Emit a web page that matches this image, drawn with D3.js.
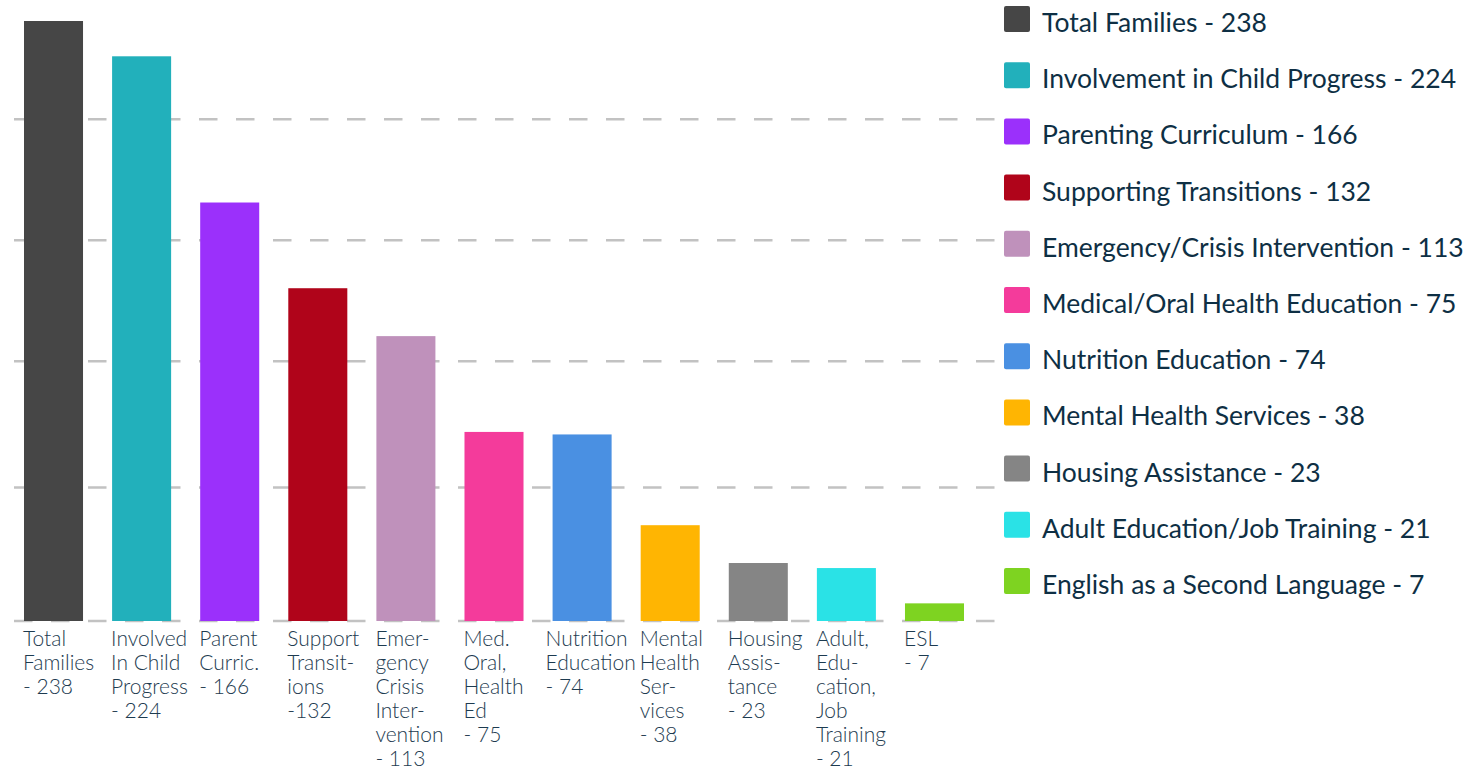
<!DOCTYPE html>
<html>
<head>
<meta charset="utf-8">
<script src="https://cdn.jsdelivr.net/npm/d3@7"></script>
<style>
    body { margin: 0; background: #fff; }
    svg { display: block; font-family: Lato, 'Open Sans', sans-serif; }
</style>
</head>
<body>
<svg id="chart"></svg>
<script>
const categories = [
    'Total Families',
    'Involvement in Child Progress',
    'Parenting Curriculum',
    'Supporting Transitions',
    'Emergency/Crisis Intervention',
    'Medical/Oral Health Education',
    'Nutrition Education',
    'Mental Health Services',
    'Housing Assistance',
    'Adult Education/Job Training',
    'English as a Second Language',
];
const values = [238, 224, 166, 132, 113, 75, 74, 38, 23, 21, 7];
const axisLabels = [
    ['Total', 'Families', '- 238'],
    ['Involved', 'In Child', 'Progress', '- 224'],
    ['Parent', 'Curric.', '- 166'],
    ['Support', 'Transit-', 'ions', '-132'],
    ['Emer-', 'gency', 'Crisis', 'Inter-', 'vention', '- 113'],
    ['Med.', 'Oral,', 'Health', 'Ed', '- 75'],
    ['Nutrition', 'Education', '- 74'],
    ['Mental', 'Health', 'Ser-', 'vices', '- 38'],
    ['Housing', 'Assis-', 'tance', '- 23'],
    ['Adult,', 'Edu-', 'cation,', 'Job', 'Training', '- 21'],
    ['ESL', '- 7'],
];
const colors = [
    '#464646', '#22b0bb', '#9b30fb', '#b0041a', '#bf91bb', '#f43b9b',
    '#4a90e2', '#ffb502', '#858585', '#2ae2e6', '#7ed321',
];
// grid lines as they sit in the picture
const gridValues = [53, 103, 151, 199];

class FamilyBars {
    margin = { top: 21, left: 24 };

    constructor(svg, width = 940, height = 600) {
        this.svg = d3.select(svg);
        this.width = width;
        this.height = height;
    }

    initialize() {
        this.svg.attr('width', 1481).attr('height', 770);
        this.grid = this.svg.append('g');
        this.container = this.svg
            .append('g')
            .attr('transform', `translate(${this.margin.left}, ${this.margin.top})`);
        this.labels = this.svg.append('g');
        this.legend = this.svg.append('g').attr('transform', 'translate(1004, 6)');

        this.xScale = d3.scaleBand().paddingInner(0.33).paddingOuter(0);
        this.yScale = d3.scaleLinear();
        this.zScale = d3.scaleOrdinal();
    }

    update() {
        const data = categories.map((c, i) => ({
            name: c,
            value: values[i],
            label: axisLabels[i],
        }));

        this.xScale.domain(categories).range([0, this.width]);
        this.yScale.domain([0, d3.max(values)]).range([this.height, 0]);
        this.zScale.domain(categories).range(colors);

        const xScale = this.xScale;
        const yScale = this.yScale;
        const top = this.margin.top;
        const left = this.margin.left;

        // dashed grid, baseline included
        this.grid
            .selectAll('line')
            .data([0, ...gridValues])
            .join('line')
            .attr('x1', 14)
            .attr('x2', 998)
            .attr('y1', d => top + yScale(d))
            .attr('y2', d => top + yScale(d))
            .attr('stroke', '#c2c2c2')
            .attr('stroke-width', 2.5)
            .attr('stroke-dasharray', '18.5 18.5');

        this.container
            .selectAll('rect')
            .data(data)
            .join('rect')
            .attr('x', d => xScale(d.name))
            .attr('y', d => yScale(d.value))
            .attr('width', xScale.bandwidth())
            .attr('height', d => this.height - yScale(d.value))
            .attr('fill', d => this.zScale(d.name));

        const labelText = this.labels
            .selectAll('text')
            .data(data)
            .join('text')
            .attr('y', top + this.height + 25)
            .attr('fill', '#1d3b50')
            .style('font-size', '21px')
            .style('font-weight', 300);
        labelText
            .selectAll('tspan')
            .data(d => d.label)
            .join('tspan')
            .attr('dy', (d, i) => (i === 0 ? 0 : 24))
            .text(d => d);

        // left aligned under the bar, pulled back if wider than its slot
        const step = xScale.step();
        labelText.each(function (d) {
            const spans = d3.select(this).selectAll('tspan');
            let w = 0;
            spans.each(function () {
                w = Math.max(w, this.getComputedTextLength());
            });
            const extra = Math.max(0, w - (step - 8));
            const x = left + xScale(d.name) - 1 - extra * 0.6;
            spans.attr('x', x);
        });

        const items = this.legend
            .selectAll('g')
            .data(data)
            .join('g')
            .attr('transform', (d, i) => `translate(0, ${i * 56.2})`);
        items
            .append('rect')
            .attr('width', 26)
            .attr('height', 26)
            .attr('rx', 2)
            .attr('fill', d => this.zScale(d.name));
        items
            .append('text')
            .attr('x', 38)
            .attr('y', 26)
            .attr('fill', '#0e2f44')
            .style('font-size', '26.5px')
            .text(d => `${d.name} - ${d.value}`);
    }
}

const chart = new FamilyBars('#chart');
chart.initialize();
chart.update();
</script>
</body>
</html>
